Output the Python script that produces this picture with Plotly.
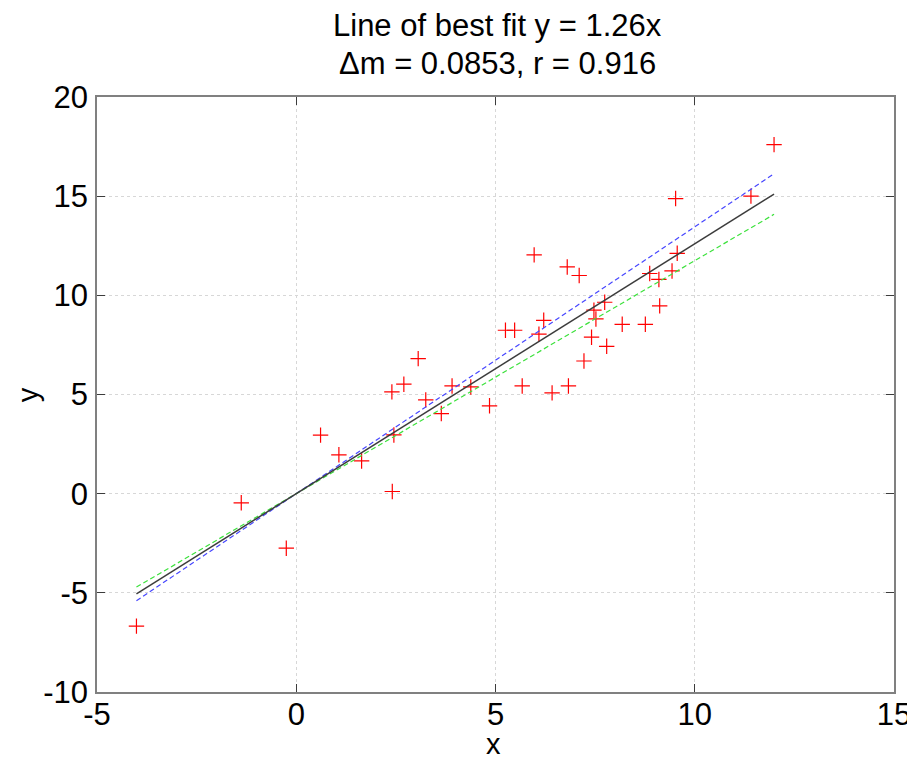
import plotly.graph_objects as go

# data
x_data = [-4.01, -1.38, -0.25, 0.61, 1.07, 1.64, 2.41, 2.45, 2.40, 2.70,
          3.06, 3.25, 3.64, 3.91, 4.38, 4.85, 5.25, 5.48, 5.67, 5.97,
          6.09, 6.21, 6.42, 6.80, 6.83, 7.10, 7.22, 7.41, 7.47, 7.52,
          7.74, 7.79, 8.18, 8.76, 8.87, 9.10, 9.12, 9.43, 9.52, 9.56,
          11.41, 11.99]
y_data = [-6.68, -0.46, -2.75, 2.95, 1.96, 1.65, 0.11, 2.96, 5.13, 5.52,
          6.81, 4.73, 4.04, 5.43, 5.38, 4.43, 8.24, 8.24, 5.43, 12.04,
          8.04, 8.74, 5.08, 11.43, 5.43, 11.00, 6.69, 7.89, 9.25, 8.81,
          9.65, 7.43, 8.54, 8.54, 11.10, 10.80, 9.47, 11.23, 14.88, 12.12,
          15.00, 17.60]

slope = 1.26
delta_m = 0.0853
r_value = 0.916

x_ticks = [-5, 0, 5, 10, 15]
x_tick_labels = ["-5", "0", "5", "10", "15"]
y_ticks = [-10, -5, 0, 5, 10, 15, 20]
y_tick_labels = ["-10", "-5", "0", "5", "10", "15", "20"]

x_line = [min(x_data), max(x_data)]

FONT = "Liberation Sans, Arial, Helvetica, sans-serif"

fig = go.Figure()

fig.add_trace(go.Scatter(
    x=x_data, y=y_data, mode="markers",
    marker=dict(symbol="cross-thin-open", size=11, color="red",
                line=dict(color="red", width=1.2)),
    showlegend=False))

fig.add_trace(go.Scatter(
    x=x_line, y=[(slope + delta_m) * v for v in x_line], mode="lines",
    line=dict(color="rgb(70,70,255)", width=1.2, dash="5px,3px"),
    showlegend=False))
fig.add_trace(go.Scatter(
    x=x_line, y=[(slope - delta_m) * v for v in x_line], mode="lines",
    line=dict(color="rgb(60,225,60)", width=1.2, dash="5px,3px"),
    showlegend=False))
fig.add_trace(go.Scatter(
    x=x_line, y=[slope * v for v in x_line], mode="lines",
    line=dict(color="rgb(60,60,60)", width=1.5),
    showlegend=False))

axis_common = dict(
    showline=True, linecolor="rgb(128,128,128)", linewidth=1.5,
    mirror="ticks", ticks="inside", ticklen=8, tickwidth=1.2,
    tickcolor="rgb(60,60,60)",
    showgrid=True, gridcolor="rgb(215,215,215)", griddash="dot", gridwidth=1,
    zeroline=False, automargin=False,
    tickfont=dict(family=FONT, size=31, color="black"),
)

fig.update_xaxes(range=[-5, 15], tickvals=x_ticks, ticktext=x_tick_labels,
                 ticklabelstandoff=-6, **axis_common)
fig.update_yaxes(range=[-10, 20], tickvals=y_ticks, ticktext=y_tick_labels,
                 ticklabelstandoff=1, **axis_common)

label_font = dict(family=FONT, size=29, color="black")
fig.update_layout(
    width=907, height=753,
    margin=dict(l=89, r=21, t=89, b=69),
    plot_bgcolor="white", paper_bgcolor="white",
    annotations=[
        dict(text=f"Line of best fit y = {slope}x", xref="paper", yref="paper",
             x=0.502, y=1.121, xanchor="center", yanchor="middle",
             showarrow=False, font=dict(family=FONT, size=31, color="black")),
        dict(text=f"\u0394m = {delta_m}, r = {r_value}", xref="paper", yref="paper",
             x=0.502, y=1.057, xanchor="center", yanchor="middle",
             showarrow=False, font=dict(family=FONT, size=31, color="black")),
        dict(text="x", xref="paper", yref="paper", x=0.498, y=-0.087,
             xanchor="center", yanchor="middle", showarrow=False, font=label_font),
        dict(text="y", xref="paper", yref="paper", x=-0.087, y=0.5,
             xanchor="center", yanchor="middle", textangle=-90,
             showarrow=False, font=label_font),
    ],
)

fig.write_html("out.html")
